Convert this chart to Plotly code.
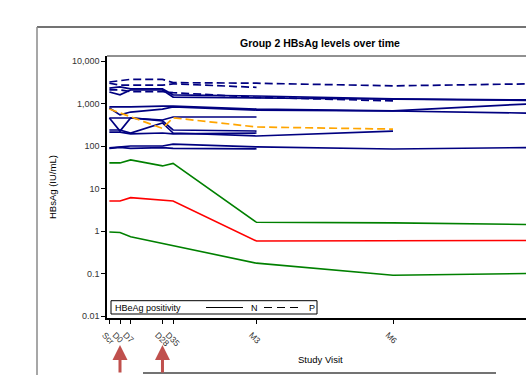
import plotly.graph_objects as go

# ---------------- data ----------------
visits = ["Scr", "D0", "D7", "D28", "D35", "M3", "M6", "M9"]
visit_days = [-7, 0, 7, 28, 35, 90, 180, 270]

ytick_vals = [0.01, 0.1, 1, 10, 100, 1000, 10000]
ytick_text = ["0.01", "0.1", "1", "10", "100", "1,000", "10,000"]

# HBeAg negative (solid, navy)
neg_s1 = [2300, 2450, 2200, 2200, 1600, 1500, 1280, 1210]
neg_s2 = [1870, 1600, 2080, 2080, 1420, 1350, 1240, 1180]
neg_a1 = [830, 830, 830, 870, 870, 740, 670, 980]
neg_a2 = [780, 540, 630, 740, 830, 700, 666, 595]
neg_t1 = [456, 456, 456, 409, 481, 481]
neg_t2 = [456, 225, 456, 390, 238, 225]
neg_t3 = [238, 238, 202, 348, 202, 172, 225]
neg_t4 = [213, 213, 192, 202, 192, 202]
neg_l1 = [90, 95, 100, 100, 111, 95, 85, 92]
neg_l2 = [88, 93, 88, 92, 88, 86]
# HBeAg positive (dashed, navy)
pos_p1 = [3200, 3400, 3700, 3700, 3100, 3000, 2600, 2900]
pos_p2 = [3000, 2700, 2700, 2700, 2900, 2400]
pos_p3 = [2100, 2100, 1900, 1900, 1800, 1400, 1150]
# highlighted subjects
orange_pos = [740, 600, 480, 260, 460, 280, 250]
green_hi = [40, 40, 47, 34, 39, 1.6, 1.55, 1.42]
red_mid = [5.1, 5.1, 6.1, 5.2, 5.1, 0.58, 0.60, 0.60]
green_lo = [0.95, 0.92, 0.73, 0.51, 0.45, 0.175, 0.091, 0.10]

arrow_visits = ["D0", "D28"]

# ---------------- style ----------------
NAVY = "#000080"
FONT = "Arial, Liberation Sans, sans-serif"
DASH = "8px,4px"

fig = go.Figure()

def add_line(vals, color, dash=None, width=1.7):
    fig.add_trace(go.Scatter(
        x=visit_days[:len(vals)], y=vals, mode="lines",
        line=dict(color=color, width=width, dash=dash),
        showlegend=False, hoverinfo="skip"))

for s in [neg_s1, neg_s2, neg_a1, neg_a2, neg_t1, neg_t2, neg_t3, neg_t4, neg_l1, neg_l2]:
    add_line(s, NAVY)
for s in [pos_p1, pos_p2, pos_p3]:
    add_line(s, NAVY, DASH)
add_line(orange_pos, "#FFA500", DASH)
add_line(green_hi, "#008000", width=1.6)
add_line(red_mid, "#FF0000", width=1.6)
add_line(green_lo, "#008000", width=1.6)

# plot area in pixels: x 107..526, y 56..318
L, R, T, B = 107, 526, 56, 318
W, H = R - L, B - T
def px(x):
    return (x - L) / W
def py(y):
    return (B - y) / H

shapes = [
    # outer frame (top + left)
    dict(type="line", xref="paper", yref="paper", x0=px(37), x1=px(540), y0=py(27), y1=py(27),
         line=dict(color="#444444", width=1.3)),
    dict(type="line", xref="paper", yref="paper", x0=px(37), x1=px(37), y0=py(27), y1=py(380),
         line=dict(color="#8a8a8a", width=1.5)),
    # plot area top border
    dict(type="line", xref="paper", yref="paper", x0=0, x1=px(540), y0=1, y1=1,
         line=dict(color="#222222", width=1)),
    # bottom panel line
    dict(type="line", xref="paper", yref="paper", x0=px(143), x1=px(496), y0=py(373), y1=py(373),
         line=dict(color="#444444", width=1.5)),
    # legend box
    dict(type="rect", xref="paper", yref="paper", x0=px(111), x1=px(317), y0=py(314), y1=py(300.7),
         line=dict(color="black", width=1), fillcolor="white", layer="above"),
    dict(type="line", xref="paper", yref="paper", x0=px(206), x1=px(243), y0=py(307.5), y1=py(307.5),
         line=dict(color="black", width=1), layer="above"),
    dict(type="line", xref="paper", yref="paper", x0=px(264), x1=px(302), y0=py(307.5), y1=py(307.5),
         line=dict(color="black", width=1, dash="8px,5px"), layer="above"),
]

def note(text, x, y, size=9, xanchor="center", angle=0, color="black"):
    return dict(text=text, xref="paper", yref="paper", x=px(x), y=py(y),
                xanchor=xanchor, yanchor="middle", textangle=angle, showarrow=False,
                font=dict(size=size, color=color, family=FONT))

annotations = [
    note("<b>Group 2 HBsAg levels over time</b>", 320, 43, size=10.5),
    note("HBsAg (IU/mL)", 52, 187, size=9.5, angle=-90),
    note("Study Visit", 320, 359, size=9.5),
    note("HBeAg positivity", 113, 307.5, size=9, xanchor="left"),
    note("N", 249, 307.5, size=9, xanchor="left"),
    note("P", 307, 307.5, size=9, xanchor="left"),
]
for v in arrow_visits:
    annotations.append(dict(
        x=visit_days[visits.index(v)], y=py(345), xref="x", yref="paper",
        text="", showarrow=True, ax=0, ay=29, axref="pixel", ayref="pixel",
        arrowhead=2, arrowsize=1.0, arrowwidth=3, arrowcolor="#C0504D"))

fig.update_layout(
    width=526, height=375, autosize=False,
    margin=dict(l=L, r=526 - R, t=T, b=375 - B, pad=0),
    paper_bgcolor="white", plot_bgcolor="white",
    font=dict(family=FONT, size=9, color="#333333"),
    shapes=shapes, annotations=annotations, showlegend=False,
)

day_per_px = 180 / 273.0
fig.update_xaxes(
    range=[0 - 13 * day_per_px, 0 + (R - 120) * day_per_px],
    tickmode="array", tickvals=visit_days, ticktext=visits,
    tickangle=45, ticks="outside", ticklen=4, tickwidth=1, tickcolor="black",
    ticklabelshift=-5, ticklabelstandoff=3,
    showline=True, linecolor="black", linewidth=1.5,
    showgrid=False, zeroline=False,
    tickfont=dict(size=8.5, color="#333333", family=FONT),
)
fig.update_yaxes(
    type="log", range=[-2 - 2 / 42.5, 4 + 5 / 42.5],
    tickmode="array", tickvals=ytick_vals, ticktext=ytick_text,
    ticks="outside", ticklen=4, tickwidth=1, tickcolor="black",
    showline=True, linecolor="black", linewidth=1.5,
    showgrid=False, zeroline=False,
    tickfont=dict(size=9, color="#333333", family=FONT),
)

fig.write_html("out.html", config={"displayModeBar": False},
               post_script="document.body.style.margin='0';document.body.style.overflow='hidden';")
